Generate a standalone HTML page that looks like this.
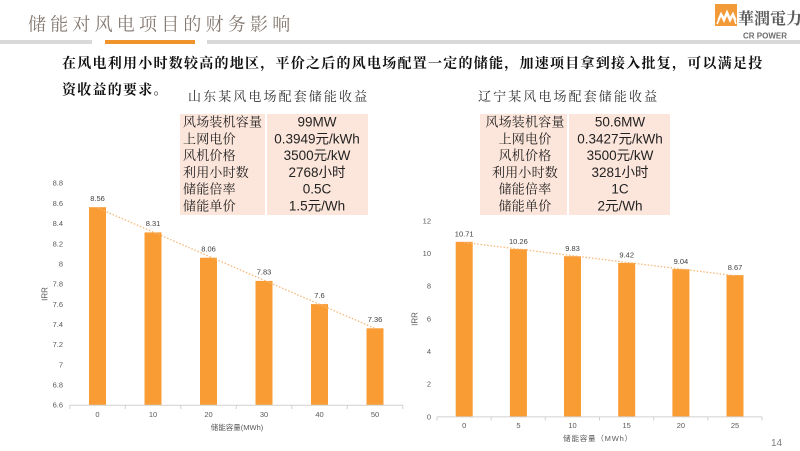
<!DOCTYPE html>
<html>
<head>
<meta charset="utf-8">
<style>
html,body{margin:0;padding:0;background:#fff;}
svg{display:block;}
.cn{font-family:"Liberation Serif","Noto Serif CJK SC",serif;}
.ln{font-family:"Liberation Sans","Noto Sans CJK SC",sans-serif;}
</style>
</head>
<body>
<svg width="800" height="451" viewBox="0 0 800 451" xmlns="http://www.w3.org/2000/svg">
  <!-- Header -->
  <text x="28" y="30.5" class="cn" font-size="18" letter-spacing="4.2" fill="#857a72">储能对风电项目的财务影响</text>
  <rect x="0" y="40" width="92" height="4" fill="#d9d9d9"/>
  <rect x="105" y="40" width="90" height="4" fill="#f0932b"/>
  <rect x="207" y="40" width="593" height="4" fill="#d9d9d9"/>

  <!-- Logo -->
  <rect x="715" y="4" width="22" height="22" fill="#f29a38"/>
  <path d="M717 24 L721 15 L724 21 L727 14 L730 21 L733 15 L736 24" fill="none" stroke="#fff" stroke-width="1.6"/>
  <path d="M718 20 L721 13 L724 18 L727 11 L730 18 L733 13 L736 20" fill="none" stroke="#fff" stroke-width="1.2"/>
  <text x="738" y="24" class="cn" font-size="16" font-weight="700" fill="#5a5a5a">華潤電力</text>
  <text x="743" y="38.5" class="ln" font-size="8" font-weight="700" fill="#6b6b6b">CR POWER</text>

  <!-- Paragraph -->
  <text x="62" y="68" class="cn" font-size="14" font-weight="700" letter-spacing="1.25" fill="#111">在风电利用小时数较高的地区，平价之后的风电场配置一定的储能，加速项目拿到接入批复，可以满足投</text>
  <text x="62" y="94.5" class="cn" font-size="14" font-weight="700" letter-spacing="1.25" fill="#111">资收益的要求。</text>

  <!-- Subtitles -->
  <text x="188" y="101" class="cn" font-size="13" letter-spacing="2.1" fill="#333">山东某风电场配套储能收益</text>
  <text x="478" y="101" class="cn" font-size="13" letter-spacing="2.1" fill="#333">辽宁某风电场配套储能收益</text>

  <!-- Left table -->
  <rect x="180" y="114" width="188" height="101" fill="#fce5da"/>
  <rect x="265" y="114" width="2" height="101" fill="#fff"/>
  <g class="cn" font-size="13" fill="#222" letter-spacing="0.2">
    <text x="183" y="126.5">风场装机容量</text>
    <text x="183" y="143.3">上网电价</text>
    <text x="183" y="160.1">风机价格</text>
    <text x="183" y="176.9">利用小时数</text>
    <text x="183" y="193.7">储能倍率</text>
    <text x="183" y="210.5">储能单价</text>
  </g>
  <g class="ln" font-size="13.5" fill="#222" text-anchor="middle">
    <text x="317" y="126.5">99MW</text>
    <text x="317" y="143.3">0.3949元/kWh</text>
    <text x="317" y="160.1">3500元/kW</text>
    <text x="317" y="176.9">2768小时</text>
    <text x="317" y="193.7">0.5C</text>
    <text x="317" y="210.5">1.5元/Wh</text>
  </g>

  <!-- Right table -->
  <rect x="480" y="114" width="190" height="101" fill="#fce5da"/>
  <rect x="567" y="114" width="2" height="101" fill="#fff"/>
  <g class="cn" font-size="13" fill="#222" letter-spacing="0.2" text-anchor="middle">
    <text x="525" y="126.5">风场装机容量</text>
    <text x="525" y="143.3">上网电价</text>
    <text x="525" y="160.1">风机价格</text>
    <text x="525" y="176.9">利用小时数</text>
    <text x="525" y="193.7">储能倍率</text>
    <text x="525" y="210.5">储能单价</text>
  </g>
  <g class="ln" font-size="13.5" fill="#222" text-anchor="middle">
    <text x="620" y="126.5">50.6MW</text>
    <text x="620" y="143.3">0.3427元/kWh</text>
    <text x="620" y="160.1">3500元/kW</text>
    <text x="620" y="176.9">3281小时</text>
    <text x="620" y="193.7">1C</text>
    <text x="620" y="210.5">2元/Wh</text>
  </g>

  <!-- Left chart -->
  <g class="ln" font-size="7.5" fill="#595959" text-anchor="end">
    <text x="63" y="185.7">8.8</text>
    <text x="63" y="205.9">8.6</text>
    <text x="63" y="226.1">8.4</text>
    <text x="63" y="246.3">8.2</text>
    <text x="63" y="266.4">8</text>
    <text x="63" y="286.6">7.8</text>
    <text x="63" y="306.8">7.6</text>
    <text x="63" y="327.0">7.4</text>
    <text x="63" y="347.2">7.2</text>
    <text x="63" y="367.4">7</text>
    <text x="63" y="387.6">6.8</text>
    <text x="63" y="407.7">6.6</text>
  </g>
  <text class="ln" font-size="8" fill="#595959" text-anchor="middle" transform="translate(47.5,294) rotate(-90)">IRR</text>
  <!-- bars: y(v)=405-(v-6.6)*100.9 -->
  <g fill="#f89c33">
    <rect x="89" y="207.2" width="17" height="197.8"/>
    <rect x="144.5" y="232.4" width="17" height="172.6"/>
    <rect x="200" y="257.7" width="17" height="147.3"/>
    <rect x="255.5" y="280.9" width="17" height="124.1"/>
    <rect x="311" y="304.1" width="17" height="100.9"/>
    <rect x="366.5" y="328.3" width="17" height="76.7"/>
  </g>
  <line x1="97.5" y1="207.9" x2="375" y2="328.4" stroke="#f7b877" stroke-width="1.3" stroke-dasharray="1.5 1.8"/>
  <line x1="69.8" y1="405.3" x2="403" y2="405.3" stroke="#d0d0d0" stroke-width="1"/>
  <g stroke="#d0d0d0" stroke-width="1">
    <line x1="69.8" y1="405" x2="69.8" y2="409"/>
    <line x1="125.3" y1="405" x2="125.3" y2="409"/>
    <line x1="180.8" y1="405" x2="180.8" y2="409"/>
    <line x1="236.3" y1="405" x2="236.3" y2="409"/>
    <line x1="291.8" y1="405" x2="291.8" y2="409"/>
    <line x1="347.3" y1="405" x2="347.3" y2="409"/>
    <line x1="402.8" y1="405" x2="402.8" y2="409"/>
  </g>
  <g class="ln" font-size="7.5" fill="#404040" text-anchor="middle">
    <text x="97.5" y="201">8.56</text>
    <text x="153" y="226.2">8.31</text>
    <text x="208.5" y="251.5">8.06</text>
    <text x="264" y="274.7">7.83</text>
    <text x="319.5" y="297.9">7.6</text>
    <text x="375" y="322.1">7.36</text>
  </g>
  <g class="ln" font-size="7.5" fill="#595959" text-anchor="middle">
    <text x="97.5" y="417">0</text>
    <text x="153" y="417">10</text>
    <text x="208.5" y="417">20</text>
    <text x="264" y="417">30</text>
    <text x="319.5" y="417">40</text>
    <text x="375" y="417">50</text>
  </g>
  <text x="237" y="430" class="ln" font-size="7.5" fill="#595959" text-anchor="middle">储能容量(MWh)</text>

  <!-- Right chart: y(v)=416.7-v*16.33 -->
  <g class="ln" font-size="7.5" fill="#595959" text-anchor="end">
    <text x="431" y="223.4">12</text>
    <text x="431" y="256.1">10</text>
    <text x="431" y="288.7">8</text>
    <text x="431" y="321.4">6</text>
    <text x="431" y="354.1">4</text>
    <text x="431" y="386.7">2</text>
    <text x="431" y="419.4">0</text>
  </g>
  <text class="ln" font-size="8" fill="#595959" text-anchor="middle" transform="translate(417.5,319) rotate(-90)">IRR</text>
  <g fill="#f89c33">
    <rect x="455.7" y="241.8" width="17" height="174.9"/>
    <rect x="509.9" y="249.1" width="17" height="167.6"/>
    <rect x="564.0" y="256.2" width="17" height="160.5"/>
    <rect x="618.2" y="262.9" width="17" height="153.8"/>
    <rect x="672.4" y="269.1" width="17" height="147.6"/>
    <rect x="726.5" y="275.1" width="17" height="141.6"/>
  </g>
  <line x1="464.2" y1="242.4" x2="735" y2="275.7" stroke="#f7b877" stroke-width="1.3" stroke-dasharray="1.5 1.8"/>
  <line x1="437" y1="416.9" x2="762" y2="416.9" stroke="#d0d0d0" stroke-width="1"/>
  <g stroke="#d0d0d0" stroke-width="1">
    <line x1="437" y1="416.7" x2="437" y2="420.5"/>
    <line x1="491.2" y1="416.7" x2="491.2" y2="420.5"/>
    <line x1="545.3" y1="416.7" x2="545.3" y2="420.5"/>
    <line x1="599.5" y1="416.7" x2="599.5" y2="420.5"/>
    <line x1="653.7" y1="416.7" x2="653.7" y2="420.5"/>
    <line x1="707.8" y1="416.7" x2="707.8" y2="420.5"/>
    <line x1="762" y1="416.7" x2="762" y2="420.5"/>
  </g>
  <g class="ln" font-size="7.5" fill="#404040" text-anchor="middle">
    <text x="464.2" y="236.5">10.71</text>
    <text x="518.4" y="243.8">10.26</text>
    <text x="572.5" y="250.9">9.83</text>
    <text x="626.7" y="257.6">9.42</text>
    <text x="680.9" y="263.8">9.04</text>
    <text x="735" y="269.8">8.67</text>
  </g>
  <g class="ln" font-size="7.5" fill="#595959" text-anchor="middle">
    <text x="464.2" y="428">0</text>
    <text x="518.4" y="428">5</text>
    <text x="572.5" y="428">10</text>
    <text x="626.7" y="428">15</text>
    <text x="680.9" y="428">20</text>
    <text x="735" y="428">25</text>
  </g>
  <text x="598" y="441" class="ln" font-size="7.5" fill="#595959" text-anchor="middle" letter-spacing="0.8">储能容量（MWh）</text>

  <!-- Page number -->
  <text x="771" y="446" class="ln" font-size="10" fill="#7f7f7f">14</text>
</svg>
</body>
</html>
